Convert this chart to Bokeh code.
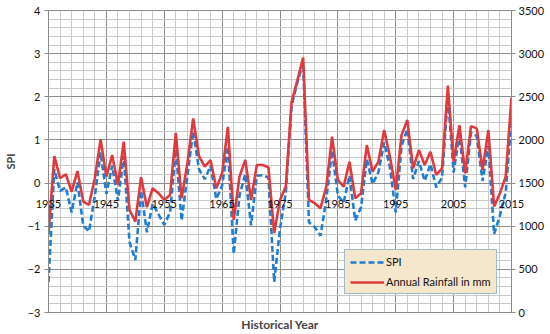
import numpy as np
from bokeh.plotting import figure
from bokeh.models import (Range1d, LinearAxis, FixedTicker, Legend, LegendItem,
                          ColumnDataSource)
from bokeh.embed import file_html
from bokeh.resources import INLINE

years = list(range(1935, 2016))
rainfall = [910, 1813, 1556, 1602, 1401, 1640, 1286, 1248, 1556, 2006,
            1575, 1825, 1479, 1979, 1190, 1055, 1568, 1221, 1440, 1383,
            1305, 1363, 2083, 1325, 1729, 2249, 1813, 1690, 1767, 1440,
            1614, 2152, 1074, 1575, 1767, 1305, 1710, 1710, 1683, 920,
            1305, 1459, 2441, 2691, 2955, 1305, 1267, 1209, 1459, 2037,
            1536, 1459, 1748, 1325, 1383, 1940, 1632, 1748, 2114, 1806,
            1421, 2056, 2230, 1671, 1883, 1710, 1863, 1594, 1671, 2630,
            1748, 2172, 1614, 2160, 2134, 1652, 2114, 1228, 1383, 1575,
            2490]
spi = [-2.29, 0.32, -0.18, -0.10, -0.68, 0.02, -0.98, -1.12, -0.30, 0.71,
       -0.25, 0.40, -0.41, 0.63, -1.37, -1.78, -0.18, -1.14, -0.48, -0.72,
       -0.97, -0.68, 0.78, -0.87, 0.17, 1.20, 0.32, 0.09, 0.40, -0.37,
       -0.06, 0.85, -1.64, -0.29, 0.21, -0.98, 0.17, 0.18, 0.13, -2.29,
       -1.06, -0.22, 1.79, 2.33, 2.79, -0.91, -1.02, -1.22, -0.37, 0.75,
       -0.29, -0.45, 0.17, -0.87, -0.56, 0.55, -0.02, 0.25, 0.94, 0.36,
       -0.68, 0.86, 1.25, 0.09, 0.51, 0.05, 0.44, -0.10, 0.13, 2.00,
       0.25, 1.13, -0.10, 1.17, 1.09, 0.05, 0.86, -1.18, -0.75, -0.22,
       1.50]

year_ticks = [1935, 1945, 1955, 1965, 1975, 1985, 1995, 2005, 2015]
year_labels = ["1935", "1945", "1955", "1965", "1975", "1985", "1995", "2005", "2015"]
spi_ticks = [-3, -2, -1, 0, 1, 2, 3, 4]
rain_ticks = [0, 500, 1000, 1500, 2000, 2500, 3000, 3500]

FONT = "Lato"
MAJOR = "#8c8c8c"
MINOR = "#c9c9c9"
FRAME_W, FRAME_H = 463, 302

src = ColumnDataSource(dict(year=years, rain=rainfall, spi=spi))

p = figure(frame_width=FRAME_W, frame_height=FRAME_H, x_range=Range1d(1935, 2015),
           y_range=Range1d(-3, 4), output_backend="svg", toolbar_location=None,
           min_border_left=38, min_border_right=30, min_border_top=10,
           min_border_bottom=17)
p.extra_y_ranges = {"rain": Range1d(0, 3500)}
p.background_fill_color = "white"
p.border_fill_color = "white"
p.outline_line_color = MAJOR

xt = FixedTicker(ticks=year_ticks, minor_ticks=list(range(1935, 2016, 2)))

# bottom axis: only the title
p.xaxis.ticker = FixedTicker(ticks=[], minor_ticks=[])
p.xaxis.axis_label = "Historical Year"
p.xaxis.axis_label_text_font = FONT
p.xaxis.axis_label_text_font_size = "12px"
p.xaxis.axis_label_text_font_style = "bold"
p.xaxis.axis_label_standoff = 4
p.xaxis.axis_line_color = None
p.xaxis.major_tick_out = 0
p.xaxis.major_tick_in = 0
p.xaxis.major_label_standoff = 0

# year labels: the axis crosses at SPI = 0, labels just below that line
zero_from_top = FRAME_H * 4 / 7
year_axis = LinearAxis(ticker=xt,
                       major_label_overrides=dict(zip(year_ticks, year_labels)))
year_axis.axis_line_color = None
year_axis.major_tick_line_color = None
year_axis.minor_tick_line_color = None
year_axis.major_label_standoff = -int(zero_from_top + 31)
year_axis.major_label_text_font = FONT
year_axis.major_label_text_font_size = "11px"
year_axis.major_label_text_color = "#111111"
p.add_layout(year_axis, "above")

yt = FixedTicker(ticks=spi_ticks, minor_ticks=[round(-3 + 0.2 * i, 1) for i in range(36)])
p.yaxis.ticker = yt
p.yaxis.axis_label = "SPI"
p.yaxis.axis_label_text_font = FONT
p.yaxis.axis_label_text_font_size = "11px"
p.yaxis.axis_label_text_font_style = "bold"
p.yaxis.axis_label_standoff = 8
p.yaxis.axis_line_color = MAJOR
p.yaxis.major_tick_line_color = MAJOR
p.yaxis.major_tick_out = 4
p.yaxis.major_tick_in = 0
p.yaxis.minor_tick_line_color = None
p.yaxis.major_label_standoff = 4
p.yaxis.major_label_text_font = FONT
p.yaxis.major_label_text_font_size = "11px"
p.yaxis.major_label_text_color = "#111111"

p.xgrid.ticker = xt
p.ygrid.ticker = yt
for g in (p.xgrid, p.ygrid):
    g.grid_line_color = MAJOR
    g.grid_line_width = 1
    g.minor_grid_line_color = MINOR
    g.minor_grid_line_width = 1
    g.level = "underlay"

raxis = LinearAxis(y_range_name="rain", axis_label=None,
                   ticker=FixedTicker(ticks=rain_ticks, minor_ticks=[]))
raxis.axis_line_color = MAJOR
raxis.major_tick_line_color = MAJOR
raxis.major_tick_out = 4
raxis.major_tick_in = 0
raxis.minor_tick_line_color = None
raxis.major_label_standoff = 3
raxis.major_label_text_font = FONT
raxis.major_label_text_font_size = "11px"
raxis.major_label_text_color = "#111111"
p.add_layout(raxis, "right")

r_spi = p.line("year", "spi", source=src, line_color="#1f7ed1", line_width=2.6,
               line_dash="6 3")
r_rain = p.line("year", "rain", source=src, y_range_name="rain",
                line_color="#e0393e", line_width=2.6)

legend = Legend(items=[LegendItem(label="SPI", renderers=[r_spi]),
                       LegendItem(label="Annual Rainfall in mm", renderers=[r_rain])],
                location=(296, 18))
legend.label_text_font = FONT
legend.label_text_font_size = "11px"
legend.label_text_color = "#111111"
legend.glyph_width = 34
legend.glyph_height = 12
legend.label_height = 12
legend.label_standoff = 2
legend.spacing = 7
legend.padding = 5
legend.margin = 0
legend.border_line_color = "#4a90d0"
legend.border_line_width = 1.5
legend.background_fill_color = "#f5e7cb"
legend.background_fill_alpha = 1
p.add_layout(legend, "center")

open("out.html", "w").write(file_html(p, INLINE))
